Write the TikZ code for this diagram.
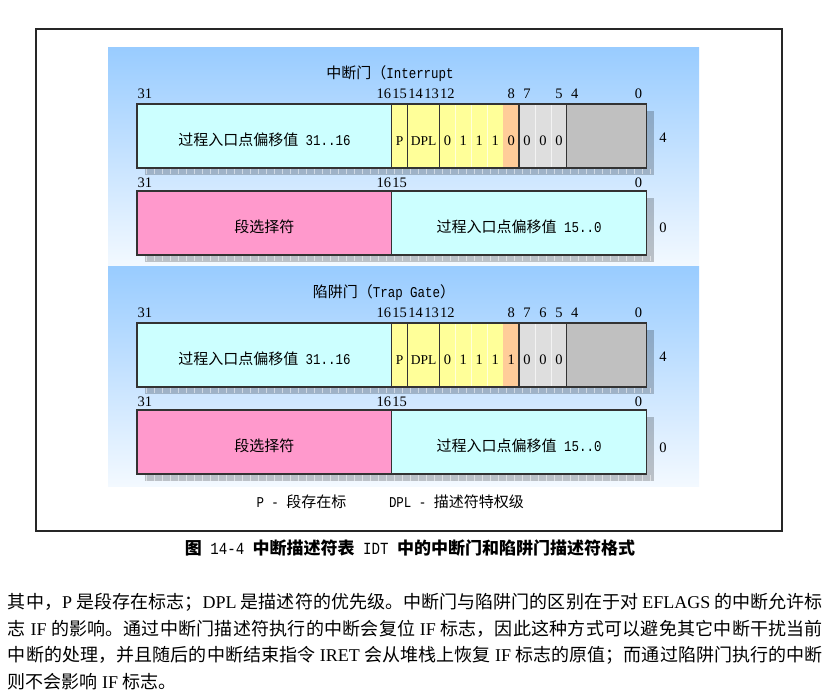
\documentclass[tikz,border=0pt]{standalone}
\usepackage{fontspec}
\setmainfont{Noto Sans CJK SC}
\newfontfamily\lat{Liberation Serif}
\newfontfamily\mono{Liberation Mono}[FakeStretch=0.83]
\XeTeXlinebreaklocale "zh"
\XeTeXlinebreakskip=0pt plus 1pt

\definecolor{cellcyan}{HTML}{CCFFFF}
\definecolor{cellyellow}{HTML}{FFFF99}
\definecolor{cellorange}{HTML}{FFCC99}
\definecolor{celllight}{HTML}{DEDEDE}
\definecolor{celldark}{HTML}{C0C0C0}
\definecolor{cellpink}{HTML}{FF99CC}
\definecolor{paneltop}{HTML}{99CCFF}
\definecolor{panelbot}{HTML}{F3F9FF}

\tikzset{
  every node/.style={inner sep=0pt, outer sep=0pt},
  field/.style={draw=black!80, line width=1.3pt},
  divider/.style={draw=white, draw opacity=0.65, line width=0.8pt},
  shadowbox/.style={fill=black, fill opacity=0.22},
  shadowtick/.style={draw=white, draw opacity=0.5, line width=0.7pt},
  bitnum/.style={anchor=base, font=\lat\fontsize{14.5}{15}\selectfont},
  celltxt/.style={anchor=base, font=\lat\fontsize{14.5}{15}\selectfont},
  flagtxt/.style={anchor=base, font=\lat\fontsize{13.5}{15}\selectfont},
  cjktxt/.style={anchor=base, font=\fontsize{15}{15}\selectfont},
}

% One gate descriptor panel: #1 name prefix, #2 title x, #3 title,
% #4 value of bit 8, #5 bit numbers printed above the upper word
\newcommand{\gatepanel}[5]{%
  \shade[top color=paneltop, bottom color=panelbot] (108,0) rectangle (699,219);
  \node[cjktxt] (#1-title) at (#2,30.5) {#3};
  % drop shadows of the two descriptor words
  \foreach \yt/\yb in {56/120,143/207}{
    \fill[shadowbox] (144.5,{\yt+7}) rectangle (654,{\yb+7});
    \foreach \k in {0,...,63}
      \draw[shadowtick] ({146+\k*8},{\yb+1}) -- ({146+\k*8},{\yb+6.5});
  }
  % upper word (offset 4)
  \fill[cellcyan]   (137,56)    rectangle (391.72,120);
  \fill[cellyellow] (391.72,56) rectangle (503.16,120);
  \fill[cellorange] (503.16,56) rectangle (519.08,120);
  \fill[celllight]  (519.08,56) rectangle (566.84,120);
  \fill[celldark]   (566.84,56) rectangle (646.44,120);
  \foreach \b in {11,10,9,6,5}
    \draw[divider] ({137+(31-\b)*15.92},56) -- ({137+(31-\b)*15.92},120);
  \draw[field] (137,56) rectangle (646.44,120);
  \foreach \b in {15,14,12,7,4}
    \draw[field] ({137+(31-\b)*15.92},56) -- ({137+(31-\b)*15.92},120);
  % lower word (offset 0)
  \fill[cellpink] (137,143)    rectangle (391.72,207);
  \fill[cellcyan] (391.72,143) rectangle (646.44,207);
  \draw[field] (137,143) rectangle (646.44,207);
  \draw[field] (391.72,143) -- (391.72,207);
  % bit numbers
  \foreach \b in {#5}
    \node[bitnum] (#1-hi-\b) at ({137+(31.5-\b)*15.92},51) {\b};
  \foreach \b in {31,16,15,0}
    \node[bitnum] (#1-lo-\b) at ({137+(31.5-\b)*15.92},139.5) {\b};
  % field contents
  \node[cjktxt] (#1-offhi) at (264.4,97.5) {过程入口点偏移值{\mono\ 31..16}};
  \node[flagtxt] (#1-p) at ({137+16.5*15.92},97.5) {P};
  \node[flagtxt] (#1-dpl) at ({137+18*15.92},97.5) {DPL};
  \foreach \b/\v in {12/0,11/1,10/1,9/1,8/#4,7/0,6/0,5/0}
    \node[celltxt] (#1-bit\b) at ({137+(31.5-\b)*15.92},97.5) {\v};
  \node[bitnum] (#1-off4) at (663,95) {4};
  \node[cjktxt] (#1-sel) at (264.4,184.5) {段选择符};
  \node[cjktxt] (#1-offlo) at (519.1,184.5) {过程入口点偏移值{\mono\ 15..0}};
  \node[bitnum] (#1-off0) at (663,185) {0};
}

\begin{document}
\begin{tikzpicture}[x=1pt,y=-1pt]
  \useasboundingbox (0,0) rectangle (830,692);
  \fill[white] (0,0) rectangle (830,692);

  % frame around the figure
  \draw[line width=1.5pt, draw=black!85] (36,29) rectangle (782,531);

  \begin{scope}[shift={(0,48)}]
    \gatepanel{int}{390}{中断门（{\mono Interrupt}}{0}{31,16,15,14,13,12,8,7,5,4,0}
  \end{scope}
  \begin{scope}[shift={(0,267)}]
    \gatepanel{trap}{384}{陷阱门（{\mono Trap Gate}）}{1}{31,16,15,14,13,12,8,7,6,5,4,0}
  \end{scope}

  % legend
  \node[cjktxt, anchor=base west] (legend-p) at (256.5,507.5) {{\mono P - }段存在标};
  \node[cjktxt, anchor=base west] (legend-dpl) at (389,507.5) {{\mono DPL - }描述符特权级};

  % caption
  \node[anchor=base, font=\bfseries\fontsize{17}{17}\selectfont] (caption) at (410,554)
    {图{\mdseries\mono\ 14-4\ }中断描述符表{\mdseries\mono\ IDT\ }中的中断门和陷阱门描述符格式};

  % body text
  \node[anchor=base west, text width=815pt, align=justify,
        font=\fontsize{18}{26.6}\selectfont] (para) at (8,608.5)
    {其中，{\lat P} 是段存在标志；{\lat DPL} 是描述符的优先级。中断门与陷阱门的区别在于对 {\lat EFLAGS} 的中断允许标\linebreak
     志 {\lat IF} 的影响。通过中断门描述符执行的中断会复位 {\lat IF} 标志，因此这种方式可以避免其它中断干扰当前\linebreak
     中断的处理，并且随后的中断结束指令 {\lat IRET} 会从堆栈上恢复 {\lat IF} 标志的原值；而通过陷阱门执行的中断\linebreak
     则不会影响 {\lat IF} 标志。};
\end{tikzpicture}
\end{document}
